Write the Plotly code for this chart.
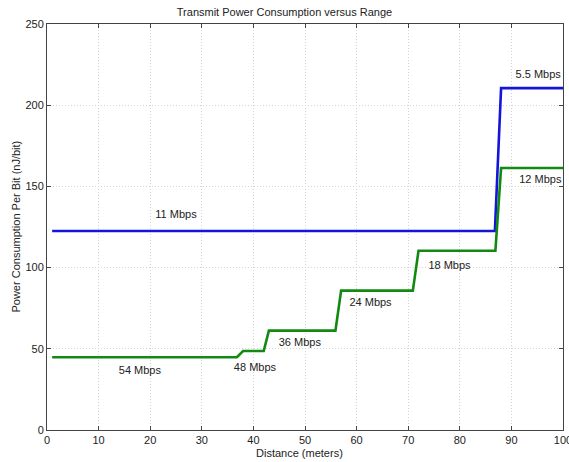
import plotly.graph_objects as go

# Data: distance breakpoints (m) and power per bit (nJ/bit)
blue_x = [1, 86.8, 88.0, 100]
blue_y = [122.5, 122.5, 210.5, 210.5]

green_x = [1, 36.8, 38.0, 42.0, 43.0, 55.9, 57.0, 70.9, 72.0, 86.9, 88.0, 100]
green_y = [44.8, 44.8, 48.6, 48.6, 61.2, 61.2, 85.8, 85.8, 110.4, 110.4, 161.3, 161.3]

label_text = ["11 Mbps", "5.5 Mbps", "12 Mbps", "18 Mbps", "24 Mbps", "36 Mbps", "48 Mbps", "54 Mbps"]
label_x = [25.0, 95.2, 95.6, 78.0, 62.7, 49.0, 40.3, 18.0]
label_y = [132.0, 218.5, 153.5, 101.0, 78.0, 53.5, 38.0, 36.0]

x_ticks = [0, 10, 20, 30, 40, 50, 60, 70, 80, 90, 100]
y_ticks = [0, 50, 100, 150, 200, 250]

font = "Liberation Sans, Arial, sans-serif"
txt = "#222222"

fig = go.Figure()
fig.add_trace(go.Scatter(x=blue_x, y=blue_y, mode="lines",
                         line=dict(color="#1414dc", width=2.6), showlegend=False))
fig.add_trace(go.Scatter(x=green_x, y=green_y, mode="lines",
                         line=dict(color="#128a12", width=2.6), showlegend=False))
fig.add_trace(go.Scatter(x=label_x, y=label_y, mode="text", text=label_text,
                         textfont=dict(family=font, size=11, color=txt),
                         showlegend=False, cliponaxis=False))

axis_common = dict(
    showline=True, linecolor="#444444", linewidth=1, mirror="ticks",
    ticks="inside", ticklen=4, tickcolor="#444444",
    showgrid=True, gridcolor="#d4d4d4", griddash="1px,2px", gridwidth=1,
    zeroline=False, tickfont=dict(family=font, size=11, color=txt),
    automargin=False, ticklabeloverflow="allow",
)

fig.update_layout(
    width=569, height=462,
    margin=dict(l=47, r=6, t=24, b=32),
    paper_bgcolor="white", plot_bgcolor="white",
    title=dict(text="Transmit Power Consumption versus Range",
               font=dict(family=font, size=11, color=txt),
               x=0.5, xanchor="center", yref="container", y=1 - 12 / 462, yanchor="middle"),
    xaxis=dict(range=[0, 100], tickvals=x_ticks, **axis_common),
    yaxis=dict(range=[0, 250], tickvals=y_ticks, **axis_common),
    annotations=[
        dict(text="Distance (meters)", xref="paper", yref="paper", x=0.49, y=-0.057,
             xanchor="center", yanchor="middle", showarrow=False,
             font=dict(family=font, size=11, color=txt)),
        dict(text="Power Consumption Per Bit (nJ/bit)", xref="paper", yref="paper",
             x=-0.061, y=0.5, xanchor="center", yanchor="middle", textangle=-90,
             showarrow=False, font=dict(family=font, size=11, color=txt)),
    ],
)

fig.write_html("out.html", config={"displayModeBar": False},
               post_script="document.body.style.margin='0';document.body.style.overflow='hidden';")
